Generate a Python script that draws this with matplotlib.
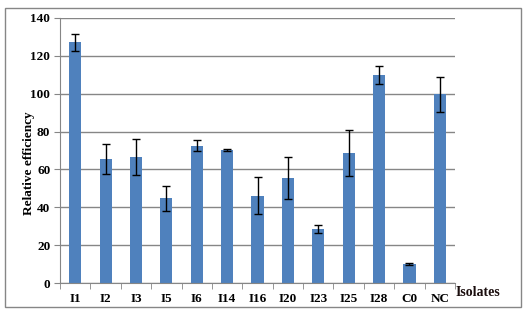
import matplotlib
matplotlib.use("Agg")
import matplotlib.pyplot as plt
import numpy as np
from matplotlib.patches import Rectangle

ISOLATES = ["I1", "I2", "I3", "I5", "I6", "I14", "I16", "I20", "I23", "I25", "I28", "C0", "NC"]
EFFICIENCY = [127.3, 65.5, 66.6, 44.9, 72.5, 70.3, 46.0, 55.5, 28.5, 68.5, 109.7, 10.0, 99.7]
ERRORS = [4.5, 7.7, 9.5, 6.6, 2.8, 0.5, 9.8, 11.3, 2.0, 12.2, 4.7, 0.7, 9.2]
Y_TICKS = [0, 20, 40, 60, 80, 100, 120, 140]

BAR_COLOR = "#4F81BD"
GRID_COLOR = "#868686"

plt.rcParams["font.family"] = ["Liberation Serif", "DejaVu Serif"]
plt.rcParams["font.weight"] = "bold"

fig = plt.figure(figsize=(5.25, 3.11), dpi=100)
# outer chart frame
fig.patches.append(Rectangle((5 / 525, 1 - 307 / 311), 516 / 525, 299 / 311,
                             transform=fig.transFigure, fill=False,
                             edgecolor=GRID_COLOR, linewidth=1.0))

ax = fig.add_axes([60 / 525, 1 - 283 / 311, 395 / 525, 265 / 311])
x = np.arange(len(ISOLATES))
ax.bar(x, EFFICIENCY, width=0.4, color=BAR_COLOR, zorder=2)
ax.errorbar(x, EFFICIENCY, yerr=ERRORS, fmt="none", ecolor="black",
            elinewidth=1.0, capsize=3, capthick=1.0, zorder=3)

ax.set_xlim(-0.5, len(ISOLATES) - 0.5)
ax.set_ylim(0, 140)
ax.set_yticks(Y_TICKS)
ax.set_yticklabels([str(v) for v in Y_TICKS], fontsize=9.5, fontweight="bold")
ax.set_xticks(x)
ax.set_xticklabels(ISOLATES, fontsize=9.5, fontweight="bold")
ax.tick_params(axis="x", which="major", length=0, pad=7)
ax.set_xticks(np.arange(-0.5, len(ISOLATES)), minor=True)
ax.tick_params(axis="x", which="minor", length=4, color=GRID_COLOR, direction="out")
ax.tick_params(axis="y", length=4, color=GRID_COLOR, direction="out", pad=3)

ax.grid(True, axis="y", color=GRID_COLOR, linewidth=1.0, zorder=0)
ax.set_axisbelow(True)
for side in ["top", "right"]:
    ax.spines[side].set_visible(False)
for side in ["left", "bottom"]:
    ax.spines[side].set_color(GRID_COLOR)

ax.set_ylabel("Relative efficiency", fontsize=9.5, fontweight="bold")
ax.yaxis.set_label_coords(-0.063, 0.453)
fig.text(456 / 525, 1 - 293 / 311, "Isolates", fontsize=10, fontweight="bold",
         ha="left", va="center", color="#1a0d0d")

fig.savefig("out.png", dpi=100)
